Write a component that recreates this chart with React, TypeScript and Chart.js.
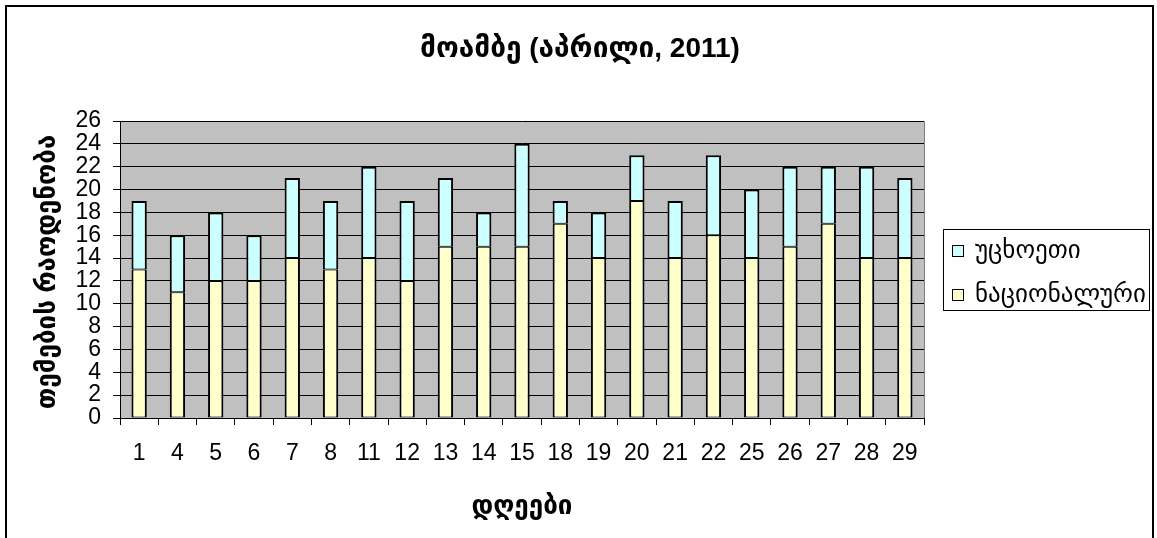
import React, { useEffect, useRef } from "react";
import { Chart, registerables } from "chart.js";

Chart.register(...registerables);

const days = ["1", "4", "5", "6", "7", "8", "11", "12", "13", "14", "15", "18", "19", "20", "21", "22", "25", "26", "27", "28", "29"];
const nationalValues = [13, 11, 12, 12, 14, 13, 14, 12, 15, 15, 15, 17, 14, 19, 14, 16, 14, 15, 17, 14, 14];
const foreignValues = [6, 5, 6, 4, 7, 6, 8, 7, 6, 3, 9, 2, 4, 4, 5, 7, 6, 7, 5, 8, 7];
const nationalLabel = "ნაციონალური";
const foreignLabel = "უცხოეთი";
const chartTitle = "მოამბე (აპრილი, 2011)";
const xAxisTitle = "დღეები";
const yAxisTitle = "თემების რაოდენობა";
const yMin = 0;
const yMax = 26;
const yStep = 2;

const W = 1157;
const H = 538;
const FONT = "Arial, 'Liberation Sans', 'DejaVu Sans', sans-serif";
const NATIONAL_COLOR = "#FFFFCC";
const FOREIGN_COLOR = "#CCFFFF";
const PLOT_BG = "#C0C0C0";

const decorPlugin = {
  id: "decor",
  beforeDraw(chart: any) {
    const { ctx, chartArea } = chart;
    ctx.save();
    ctx.fillStyle = "#ffffff";
    ctx.fillRect(0, 0, W, H);
    ctx.fillStyle = PLOT_BG;
    ctx.fillRect(chartArea.left, chartArea.top, chartArea.right - chartArea.left, chartArea.bottom - chartArea.top);
    ctx.restore();
  },
  afterDraw(chart: any) {
    const { ctx, chartArea } = chart;
    ctx.save();
    // plot right edge
    ctx.strokeStyle = "#808080";
    ctx.lineWidth = 1;
    ctx.beginPath();
    ctx.moveTo(chartArea.right + 0.5, chartArea.top);
    ctx.lineTo(chartArea.right + 0.5, chartArea.bottom);
    ctx.stroke();

    // outer border
    ctx.strokeStyle = "#000";
    ctx.lineWidth = 2;
    ctx.strokeRect(6, 6, 1147, 700);

    ctx.fillStyle = "#000";
    // title
    ctx.font = `bold 28px ${FONT}`;
    ctx.textAlign = "center";
    ctx.textBaseline = "middle";
    ctx.fillText(chartTitle, 580, 49);

    // x axis title
    ctx.font = `bold 26px ${FONT}`;
    ctx.fillText(xAxisTitle, (chartArea.left + chartArea.right) / 2, 507);

    // y axis title
    ctx.save();
    ctx.translate(48, 272);
    ctx.rotate(-Math.PI / 2);
    ctx.font = `bold 26px ${FONT}`;
    ctx.fillText(yAxisTitle, 0, 0);
    ctx.restore();

    // legend
    ctx.lineWidth = 1;
    ctx.strokeStyle = "#000";
    ctx.strokeRect(943.5, 229.5, 206, 81);
    const items = [
      { label: chart.data.datasets[1].label, color: FOREIGN_COLOR, y: 250 },
      { label: chart.data.datasets[0].label, color: NATIONAL_COLOR, y: 294 },
    ];
    ctx.font = `25px ${FONT}`;
    ctx.textAlign = "left";
    ctx.textBaseline = "middle";
    for (const it of items) {
      ctx.fillStyle = it.color;
      ctx.fillRect(952, it.y - 5, 11, 11);
      ctx.strokeRect(952.5, it.y - 5 + 0.5, 11, 11);
      ctx.fillStyle = "#000";
      ctx.fillText(it.label, 975, it.y + 1);
    }
    ctx.restore();
  },
};

export default function App() {
  const ref = useRef<HTMLCanvasElement | null>(null);

  useEffect(() => {
    if (!ref.current) return;
    const chart = new Chart(ref.current, {
      type: "bar",
      data: {
        labels: days,
        datasets: [
          {
            label: nationalLabel,
            data: nationalValues,
            backgroundColor: NATIONAL_COLOR,
            borderColor: "#000",
            borderWidth: { left: 2, right: 2, top: 1, bottom: 1 },
            borderSkipped: false,
            categoryPercentage: 1,
            barPercentage: 0.4,
          },
          {
            label: foreignLabel,
            data: foreignValues,
            backgroundColor: FOREIGN_COLOR,
            borderColor: "#000",
            borderWidth: { left: 2, right: 2, top: 2, bottom: 1 },
            borderSkipped: false,
            categoryPercentage: 1,
            barPercentage: 0.4,
          },
        ],
      },
      options: {
        animation: false,
        responsive: false,
        devicePixelRatio: 1,
        layout: { padding: { left: 0, top: 121, right: W - 924, bottom: 0 } },
        plugins: {
          legend: { display: false },
          title: { display: false },
          tooltip: { enabled: false },
        },
        scales: {
          x: {
            stacked: true,
            offset: true,
            grid: {
              display: true,
              drawOnChartArea: false,
              drawTicks: true,
              tickLength: 7,
              color: "#000",
              offset: true,
            },
            border: { display: true, color: "#000", width: 1 },
            ticks: {
              color: "#000",
              font: { family: FONT, size: 23 },
              padding: 15,
              maxRotation: 0,
              autoSkip: false,
            },
            afterFit: (s: any) => {
              s.height = H - 418;
            },
          },
          y: {
            stacked: true,
            min: yMin,
            max: yMax,
            ticks: {
              stepSize: yStep,
              color: "#000",
              font: { family: FONT, size: 23, lineHeight: 1 },
              padding: 12,
              autoSkip: false,
            },
            grid: { color: "#000", tickLength: 7 },
            border: { color: "#000", width: 1 },
            afterFit: (s: any) => {
              s.width = 120;
            },
          },
        },
      },
      plugins: [decorPlugin],
    } as any);
    return () => chart.destroy();
  }, []);

  return (
    <div style={{ position: "fixed", left: 0, top: 0, width: W, height: H, background: "#fff" }}>
      <canvas ref={ref} width={W} height={H} style={{ width: W, height: H, display: "block" }} />
    </div>
  );
}
